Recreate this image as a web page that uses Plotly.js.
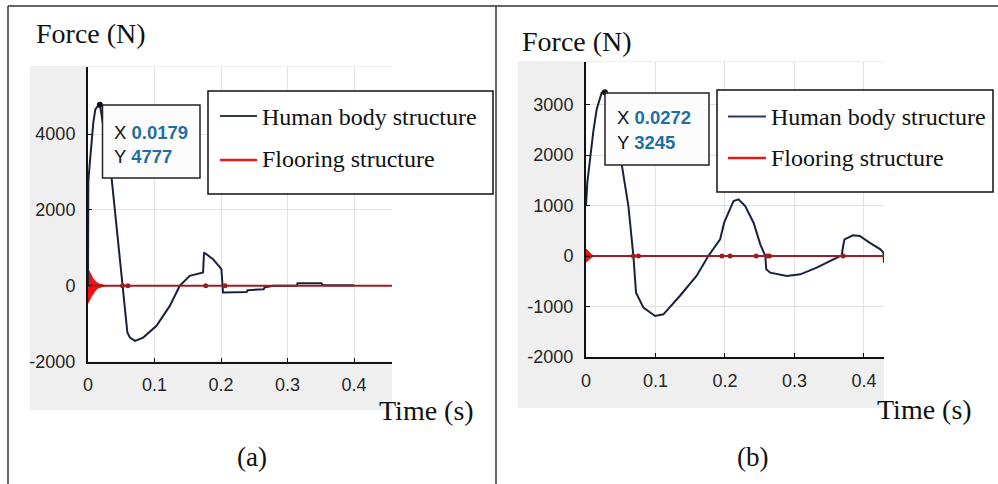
<!DOCTYPE html>
<html>
<head>
<meta charset="utf-8">
<script src="https://cdn.plot.ly/plotly-3.0.1.min.js"></script>
<style>html,body{margin:0;padding:0;background:#fff;}#chart{width:998px;height:484px;}</style>
</head>
<body>
<div id="chart"></div>
<script>
// ---------- DATA ----------
// Panel (a)
const timeA = [0, 0.0005, 0.003, 0.005, 0.008, 0.011, 0.015, 0.0179, 0.0356, 0.0592, 0.063, 0.0707, 0.083, 0.103, 0.123, 0.138, 0.153, 0.173, 0.1745, 0.188, 0.2006, 0.203, 0.2386, 0.240, 0.264, 0.266, 0.279, 0.314, 0.315, 0.351, 0.353, 0.4];
const humanA = [0, 2750, 3300, 3800, 4300, 4650, 4750, 4777, 2820, -1236, -1370, -1458, -1370, -1060, -533, 0, 260, 350, 877, 700, 436, -180, -164, -120, -92, -40, 0, 0, 66, 66, 15, 15];
// envelope of the decaying flooring oscillation (upper edge, then lower edge back)
const burstTimeA = [0, 0.001, 0.003, 0.005, 0.0075, 0.010, 0.0125, 0.015, 0.018, 0.021, 0.024, 0.027, 0.024, 0.021, 0.018, 0.015, 0.0125, 0.010, 0.0075, 0.005, 0.003, 0.001, 0];
const burstA = [420, 410, 340, 260, 190, 140, 95, 60, 38, 22, 12, 0, -12, -22, -38, -62, -100, -155, -210, -280, -360, -440, -460];
const floorTimeA = [0, 0.457];
const floorA = [0, 0];
const floorMarkTimeA = [0.052, 0.060, 0.177, 0.206];
const floorMarkA = [0, 0, 0, 0];
const peakA = [0.0179, 4777];

// Panel (b)
const timeB = [0, 0.0019, 0.0058, 0.0106, 0.0154, 0.0226, 0.0272, 0.0514, 0.061, 0.0682, 0.072, 0.0826, 0.0994, 0.1114, 0.135, 0.159, 0.176, 0.193, 0.1988, 0.2075, 0.2123, 0.2195, 0.2291, 0.2411, 0.2508, 0.258, 0.2594, 0.2651, 0.289, 0.3084, 0.332, 0.356, 0.368, 0.370, 0.372, 0.384, 0.394, 0.408, 0.4236, 0.428, 0.4288];
const humanB = [990, 1453, 1915, 2475, 2905, 3235, 3245, 1815, 990, 0, -725, -1022, -1188, -1155, -792, -396, 0, 330, 660, 925, 1090, 1123, 990, 660, 232, 0, -264, -330, -396, -363, -231, -66, 14, 198, 330, 410, 396, 264, 132, 66, -132];
const burstTimeB = [0, 0.002, 0.005, 0.008, 0.011, 0.008, 0.005, 0.002, 0];
const burstB = [140, 110, 60, 25, 0, -25, -60, -100, -120];
const floorTimeB = [0, 0.4288];
const floorB = [0, 0];
const floorMarkTimeB = [0.0682, 0.0755, 0.1955, 0.2075, 0.245, 0.260, 0.264, 0.370];
const floorMarkB = [0, 0, 0, 0, 0, 0, 0, 0];
const peakB = [0.0272, 3245];

const xTicks = [0, 0.1, 0.2, 0.3, 0.4];
const xTickText = ['0', '0.1', '0.2', '0.3', '0.4'];
const yTicksA = [-2000, 0, 2000, 4000];
const yTickTextA = ['-2000', '0', '2000', '4000'];
const yTicksB = [-2000, -1000, 0, 1000, 2000, 3000];
const yTickTextB = ['-2000', '-1000', '0', '1000', '2000', '3000'];
const seriesNames = ['Human body structure', 'Flooring structure'];
const panelLabels = ['(a)', '(b)'];

// ---------- STYLE ----------
const W = 998, H = 484;
const px = v => v / W;
const py = v => 1 - v / H;
const BLUE = '#17223d';
const RED_LINE = '#9c1d22';
const RED_BURST = '#f01010';
const LEG_BLUE = '#2b3a58';
const LEG_RED = '#e3191b';
const SERIF = '"Liberation Serif", "Times New Roman", serif';
const SANS = '"Liberation Sans", Arial, sans-serif';

function traces(ax, t, h, bt, b, ft, f, mt, m, peak) {
  const xa = ax === 1 ? 'x' : 'x2';
  const ya = ax === 1 ? 'y' : 'y2';
  return [
    {x: bt, y: b, xaxis: xa, yaxis: ya, mode: 'lines', fill: 'toself', fillcolor: RED_BURST, line: {color: RED_BURST, width: 1}, showlegend: false, hoverinfo: 'skip'},
    {x: t, y: h, xaxis: xa, yaxis: ya, mode: 'lines', line: {color: BLUE, width: 2}, name: seriesNames[0], showlegend: false},
    {x: ft, y: f, xaxis: xa, yaxis: ya, mode: 'lines', line: {color: RED_LINE, width: 2}, name: seriesNames[1], showlegend: false},
    {x: mt, y: m, xaxis: xa, yaxis: ya, mode: 'markers', marker: {color: RED_LINE, size: 5, symbol: 'circle'}, showlegend: false, hoverinfo: 'skip'},
    {x: [peak[0]], y: [peak[1]], xaxis: xa, yaxis: ya, mode: 'markers', marker: {color: '#111', size: 6}, showlegend: false, hoverinfo: 'skip'}
  ];
}

const data = [].concat(
  traces(1, timeA, humanA, burstTimeA, burstA, floorTimeA, floorA, floorMarkTimeA, floorMarkA, peakA),
  traces(2, timeB, humanB, burstTimeB, burstB, floorTimeB, floorB, floorMarkTimeB, floorMarkB, peakB)
);

function xAxis(domain, range, anchor) {
  return {
    domain: domain, range: range, tickvals: xTicks, ticktext: xTickText, anchor: anchor,
    showgrid: true, gridcolor: '#e2e2e2', gridwidth: 1, zeroline: false,
    showline: true, linecolor: '#111', linewidth: 2, ticks: 'inside', ticklen: 4, tickcolor: '#111',
    tickfont: {family: SANS, size: 18, color: '#262626'}, ticklabelstandoff: 6, fixedrange: true
  };
}
function yAxis(domain, range, ticks, text, anchor) {
  return {
    domain: domain, range: range, tickvals: ticks, ticktext: text, anchor: anchor,
    showgrid: true, gridcolor: '#e2e2e2', gridwidth: 1, zeroline: false,
    showline: true, linecolor: '#111', linewidth: 2, ticks: 'inside', ticklen: 4, tickcolor: '#111',
    tickfont: {family: SANS, size: 18, color: '#262626'}, ticklabelstandoff: 7, fixedrange: true
  };
}

const shapes = [
  // frame
  {type: 'line', xref: 'paper', yref: 'paper', x0: px(8), x1: px(998), y0: py(6), y1: py(6), line: {color: '#333', width: 1.5}},
  {type: 'line', xref: 'paper', yref: 'paper', x0: px(8), x1: px(8), y0: py(6), y1: py(484), line: {color: '#333', width: 1.5}},
  {type: 'line', xref: 'paper', yref: 'paper', x0: px(496), x1: px(496), y0: py(6), y1: py(484), line: {color: '#333', width: 1.5}},
  // gray figure backgrounds
  {type: 'rect', layer: 'below', xref: 'paper', yref: 'paper', x0: px(30), x1: px(392), y0: py(410), y1: py(66), fillcolor: '#efefef', line: {width: 0}},
  {type: 'rect', layer: 'below', xref: 'paper', yref: 'paper', x0: px(518), x1: px(884), y0: py(408), y1: py(61), fillcolor: '#efefef', line: {width: 0}},
  {type: 'rect', layer: 'below', xref: 'paper', yref: 'paper', x0: px(88), x1: px(392), y0: py(361.5), y1: py(67), fillcolor: '#ffffff', line: {width: 0}},
  {type: 'rect', layer: 'below', xref: 'paper', yref: 'paper', x0: px(586), x1: px(884), y0: py(357), y1: py(62), fillcolor: '#ffffff', line: {width: 0}},
  // datatip boxes
  {type: 'rect', xref: 'paper', yref: 'paper', x0: px(102.5), x1: px(200), y0: py(178), y1: py(105), fillcolor: '#fcfcfc', line: {color: '#222', width: 1.5}},
  {type: 'rect', xref: 'paper', yref: 'paper', x0: px(605), x1: px(709), y0: py(165), y1: py(93), fillcolor: '#fcfcfc', line: {color: '#222', width: 1.5}},
  // legend boxes
  {type: 'rect', xref: 'paper', yref: 'paper', x0: px(208), x1: px(493), y0: py(194), y1: py(91), fillcolor: '#ffffff', line: {color: '#111', width: 1.5}},
  {type: 'rect', xref: 'paper', yref: 'paper', x0: px(717), x1: px(993), y0: py(192), y1: py(90), fillcolor: '#ffffff', line: {color: '#111', width: 1.5}},
  // legend samples
  {type: 'line', xref: 'paper', yref: 'paper', x0: px(220), x1: px(257), y0: py(116), y1: py(116), line: {color: LEG_BLUE, width: 2}},
  {type: 'line', xref: 'paper', yref: 'paper', x0: px(220), x1: px(257), y0: py(160), y1: py(160), line: {color: LEG_RED, width: 2.5}},
  {type: 'line', xref: 'paper', yref: 'paper', x0: px(728), x1: px(766), y0: py(116.5), y1: py(116.5), line: {color: LEG_BLUE, width: 2}},
  {type: 'line', xref: 'paper', yref: 'paper', x0: px(728), x1: px(766), y0: py(158), y1: py(158), line: {color: LEG_RED, width: 2.5}}
];

function ann(text, x, y, size, family, xanchor, color) {
  return {text: text, xref: 'paper', yref: 'paper', x: px(x), y: py(y), xanchor: xanchor || 'left', yanchor: 'middle',
          showarrow: false, font: {family: family, size: size, color: color || '#111'}};
}
const TIPBLUE = '#1f6fa5';
const annotations = [
  ann('Force (N)', 34, 34, 28, SERIF),
  ann('Force (N)', 520, 41, 28, SERIF),
  ann('Time (s)', 377, 410, 28, SERIF),
  ann('Time (s)', 875, 409, 28, SERIF),
  ann(panelLabels[0], 252, 457, 27, SERIF, 'center'),
  ann(panelLabels[1], 752, 457, 27, SERIF, 'center'),
  ann(seriesNames[0], 260, 117, 24, SERIF),
  ann(seriesNames[1], 260, 159, 24, SERIF),
  ann(seriesNames[0], 769, 117, 24, SERIF),
  ann(seriesNames[1], 769, 158, 24, SERIF),
  ann('X <b><span style="color:' + TIPBLUE + '">' + peakA[0] + '</span></b>', 112, 132, 18.5, SANS),
  ann('Y <b><span style="color:' + TIPBLUE + '">' + peakA[1] + '</span></b>', 112, 156, 18.5, SANS),
  ann('X <b><span style="color:' + TIPBLUE + '">' + peakB[0] + '</span></b>', 615, 117, 18.5, SANS),
  ann('Y <b><span style="color:' + TIPBLUE + '">' + peakB[1] + '</span></b>', 615, 143, 18.5, SANS)
];

const layout = {
  width: W, height: H,
  margin: {l: 0, r: 0, t: 0, b: 0},
  paper_bgcolor: '#ffffff', plot_bgcolor: '#ffffff',
  showlegend: false,
  xaxis: xAxis([px(88), px(392)], [0, 0.4571], 'y'),
  yaxis: yAxis([py(361.5), py(67)], [-2000, 5770], yTicksA, yTickTextA, 'x'),
  xaxis2: xAxis([px(586), px(884)], [0, 0.4288], 'y2'),
  yaxis2: yAxis([py(357), py(62)], [-2000, 3842], yTicksB, yTickTextB, 'x2'),
  shapes: shapes,
  annotations: annotations
};

Plotly.newPlot('chart', data, layout, {displayModeBar: false, staticPlot: true});
</script>
</body>
</html>
